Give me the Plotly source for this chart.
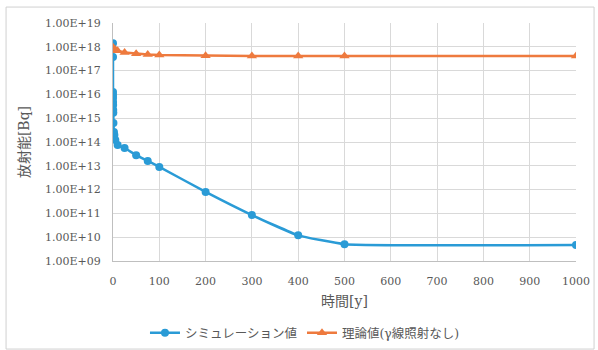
import plotly.graph_objects as go

sim_t = [0, 0.001, 0.01, 0.05, 0.1, 0.2, 0.3, 0.5, 0.7, 1, 2, 3, 5, 10,
         25, 50, 75, 100, 200, 300, 400, 500, 1000]
sim_v = [1.4e18, 3.7e17, 1.26e16, 9.4e15, 7e15, 4.8e15, 3.6e15, 2.2e15, 1.7e15,
         6.3e14, 2.6e14, 1.95e14, 1.2e14, 7.4e13,
         5.6e13, 2.8e13, 1.6e13, 9e12, 8e11, 8.5e10, 1.2e10, 5.1e9, 4.7e9]

th_t = [0, 1, 5, 10, 25, 50, 75, 100, 200, 300, 400, 500, 1000]
th_v = [9.5e17, 8.5e17, 7.5e17, 6.8e17, 5.8e17, 5.1e17, 4.7e17, 4.5e17,
        4.2e17, 4.1e17, 4.1e17, 4.1e17, 4.1e17]

y_tickvals = [1e9, 1e10, 1e11, 1e12, 1e13, 1e14, 1e15, 1e16, 1e17, 1e18, 1e19]
y_ticktext = ["1.00E+09", "1.00E+10", "1.00E+11", "1.00E+12", "1.00E+13", "1.00E+14",
              "1.00E+15", "1.00E+16", "1.00E+17", "1.00E+18", "1.00E+19"]

sim_name = "シミュレーション値"
th_name = "理論値(γ線照射なし)"
x_title = "時間[y]"
y_title = "放射能[Bq]"

BLUE = "#2a9bd6"
ORANGE = "#ee7a3e"
FONT = "DejaVu Serif, Noto Sans CJK JP, serif"
GREY = "#595959"

fig = go.Figure()
fig.add_trace(go.Scatter(x=sim_t, y=sim_v, name=sim_name, mode="lines+markers",
                         line=dict(color=BLUE, width=2.5, shape="spline", smoothing=0.35),
                         marker=dict(symbol="circle", size=8, color=BLUE)))
fig.add_trace(go.Scatter(x=th_t, y=th_v, name=th_name, mode="lines+markers",
                         line=dict(color=ORANGE, width=2.5),
                         marker=dict(symbol="triangle-up", size=9, color=ORANGE)))

fig.update_layout(
    width=598, height=350,
    margin=dict(l=113, r=22, t=23, b=89, autoexpand=False),
    paper_bgcolor="white", plot_bgcolor="white",
    font=dict(family=FONT, size=11, color=GREY),
    showlegend=True,
    legend=dict(orientation="h", x=0.51, xanchor="center", xref="container",
                y=0.048, yanchor="middle", yref="container",
                font=dict(family=FONT, size=12.5, color=GREY),
                traceorder="normal", bgcolor="rgba(0,0,0,0)"),
    xaxis=dict(range=[0, 1000], dtick=100, tick0=0, showgrid=True, gridcolor="#d9d9d9",
               gridwidth=1, showline=True, linecolor="#bfbfbf", zeroline=False,
               ticks="outside", ticklen=10, tickcolor="rgba(0,0,0,0)", automargin=False,
               title=dict(text=x_title, standoff=8,
                          font=dict(family=FONT, size=14, color=GREY))),
    yaxis=dict(type="log", range=[9, 19], tickvals=y_tickvals, ticktext=y_ticktext,
               showgrid=True, gridcolor="#d9d9d9", gridwidth=1, showline=True,
               linecolor="#bfbfbf", zeroline=False, automargin=False,
               ticks="outside", ticklen=9, tickcolor="rgba(0,0,0,0)",
               title=dict(text=y_title, standoff=12,
                          font=dict(family=FONT, size=14, color=GREY))),
    shapes=[dict(type="rect", xref="paper", yref="paper",
                 x0=-0.231, x1=1.039, y0=-0.37, y1=1.067,
                 line=dict(color="#d0d0d0", width=1), fillcolor="rgba(0,0,0,0)",
                 layer="below")],
)

fig.write_html("out.html", config={"displayModeBar": False},
               post_script="document.body.style.margin='0px';document.body.style.overflow='hidden';")
